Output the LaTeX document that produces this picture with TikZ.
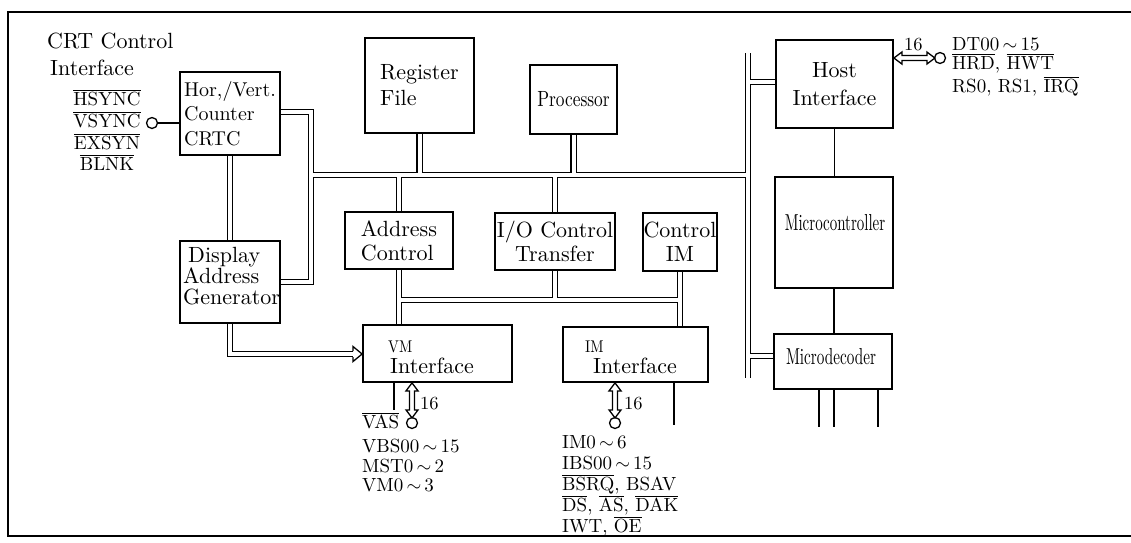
\RequirePackage{fix-cm}
\documentclass[tikz,border=0pt]{standalone}
\usepackage{fontspec}
\setmainfont{lmroman10-regular}[Extension=.otf,BoldFont=lmroman10-bold,ItalicFont=lmroman10-italic]
\usepackage{graphicx}
\usetikzlibrary{calc}
\pgfdeclarelayer{bg}
\pgfsetlayers{bg,main}
\newcommand\ovl[1]{$\overline{\mbox{#1}}$}
\newcommand\wv{\,$\sim$\,}
\begin{document}
\begin{tikzpicture}[x=1pt,y=-1pt,
  box/.style={draw,line width=1.8pt,fill=white,inner sep=0pt,align=center,font=\fontsize{22}{24}\selectfont},
  txt/.style={inner sep=0pt,anchor=base west,font=\fontsize{22}{24}\selectfont},
  sig/.style={inner sep=0pt,anchor=base west,font=\fontsize{19}{21}\selectfont},
  num/.style={inner sep=0pt,anchor=base west,font=\fontsize{18.5}{20}\selectfont},
  small/.style={inner sep=0pt,anchor=base west,font=\fontsize{17}{19}\selectfont},
  ln/.style={line width=1.3pt},
  bus/.style={line width=1.3pt,double=white,double distance=4pt},
  pin/.style={circle,draw,line width=1.3pt,fill=white,inner sep=0pt,minimum size=11pt},
  fat/.style={line width=1.3pt,line join=miter},
]
\useasboundingbox (0,0) rectangle (1131,542);
\begin{pgfonlayer}{bg}
\fill[white] (0,0) rectangle (1131,542);
\end{pgfonlayer}
\draw[line width=1.5pt] (1131,12) -- (8,12) -- (8,536) -- (1131,536);

% boxes
\node[box,minimum width=100pt,minimum height=83pt,align=left,font=\fontsize{20}{24.5}\selectfont] (crtc) at (230,113.5) {Hor,/Vert.\\Counter\\CRTC};
\node[box,minimum width=109pt,minimum height=95pt,align=left,font=\fontsize{22}{26}\selectfont] (reg) at (419.5,85.5) {Register\\File};
\node[box,minimum width=87pt,minimum height=69pt] (proc) at (573.5,99.5) {\scalebox{0.79}[1]{Processor}};
\node[box,minimum width=117pt,minimum height=88pt,font=\fontsize{22}{28}\selectfont] (host) at (834.5,84) {Host\\Interface};
\node[box,minimum width=118pt,minimum height=111pt] (mctl) at (834,232.5) {};
\node[box,minimum width=118pt,minimum height=55pt] (mdec) at (833,361.5) {};
\node[box,minimum width=100pt,minimum height=82pt] (dag) at (230,282) {};
\node[box,minimum width=108pt,minimum height=57pt,align=left] (addr) at (399,240.5) {Address\\Control};
\node[box,minimum width=120pt,minimum height=57pt] (ioc) at (555,241.5) {I/O Control\\Transfer};
\node[box,minimum width=74pt,minimum height=58pt] (cim) at (680,242) {Control\\IM};
\node[box,minimum width=149pt,minimum height=57pt] (vm) at (437.5,353.5) {};
\node[box,minimum width=145pt,minimum height=55pt] (im) at (635.5,354.5) {};

% texts inside boxes placed freely
\node[inner sep=0pt,font=\fontsize{22}{24}\selectfont] (mctlT) at (835,223) {\scalebox{0.68}[1.05]{Microcontroller}};
\node[inner sep=0pt,font=\fontsize{22}{24}\selectfont] (mdecT) at (831,357) {\scalebox{0.69}[1.05]{Microdecoder}};
\node[txt] (dagT1) at (188,262) {Display};
\node[txt] (dagT2) at (183,283) {Address};
\node[txt] (dagT3) at (183,304) {Generator};
\node[small] (vmT1) at (388,352) {\scalebox{0.85}[1]{VM}};
\node[txt] (vmT2) at (390,373) {Interface};
\node[small] (imT1) at (585,352) {\scalebox{0.85}[1]{IM}};
\node[txt] (imT2) at (593,373) {Interface};

% CRT interface
\node[txt] (crtT1) at (47,48) {CRT\ Control};
\node[txt] (crtT2) at (50,75) {Interface};
\node[sig,anchor=base] (s1) at (107,105) {\ovl{HSYNC}};
\node[sig,anchor=base] (s2) at (107,127) {\ovl{VSYNC}};
\node[sig,anchor=base] (s3) at (107,149) {\ovl{EXSYN}};
\node[sig,anchor=base] (s4) at (107,170) {\ovl{BLNK}};
\node[pin] (pcrt) at (152,123) {};
\draw[ln] (pcrt) -- (pcrt -| crtc.west);

% buses
\begin{pgfonlayer}{bg}
\draw[bus]
  (crtc.east |- 0,112) -- (311,112) -- (311,282) -- (dag.east |- 0,282)
  (311,175) -- (748,175)
  (748,53) -- (748,378)
  (748,82) -- (host.west |- 0,82)
  (748,356) -- (mdec.west |- 0,356)
  (reg.south) -- (reg.south |- 0,175)
  (proc.south) -- (proc.south |- 0,175)
  (addr.north |- 0,175) -- (addr.north)
  (ioc.north |- 0,175) -- (ioc.north)
  (addr.south) -- (addr.south |- vm.north)
  (ioc.south) -- (ioc.south |- 0,300)
  (addr.south |- 0,300) -- (cim.south |- 0,300)
  (cim.south) -- (cim.south |- im.north)
  (crtc.south) -- (dag.north)
  (dag.south) -- (230,354) -- (353,354);
\end{pgfonlayer}
\draw[ln,line join=miter] (353,351) -- (353,346.5) -- (vm.west |- 0,354) -- (353,361.5) -- (353,357);

% host side
\node[pin] (phost) at (940,58) {};
\draw[fat] (phost -| host.east) -- ++(8,-6) -- ++(0,3.5) -- ++(25,0) -- ++(0,-3.5) -- ++(8,6) -- ++(-8,6) -- ++(0,-3.5) -- ++(-25,0) -- ++(0,3.5) -- cycle;
\node[num] (n16h) at (904,50) {16};
\node[sig] (h1) at (952,50) {DT00\wv15};
\node[sig] (h2) at (952,69) {\ovl{HRD}, \ovl{HWT}};
\node[sig] (h3) at (952,92) {RS0, RS1, \ovl{IRQ}};
\draw[ln] (host.south) -- (host.south |- mctl.north);
\draw[ln] (mctl.south) -- (mctl.south |- mdec.north);
\coordinate (md1) at (819,427);
\coordinate (md2) at (834,427);
\coordinate (md3) at (878,427);
\draw[ln] (md1 |- mdec.south) -- (md1);
\draw[ln] (md2 |- mdec.south) -- (md2);
\draw[ln] (md3 |- mdec.south) -- (md3);

% VM side
\node[pin] (pvm) at (412,423) {};
\draw[fat] (pvm |- vm.south) -- ++(6,8) -- ++(-3.5,0) -- ++(0,19) -- ++(3.5,0) -- ++(-6,8) -- ++(-6,-8) -- ++(3.5,0) -- ++(0,-19) -- ++(-3.5,0) -- cycle;
\node[num] (n16v) at (420,409) {16};
\coordinate (vasEnd) at (394,410);
\draw[ln] (vasEnd |- vm.south) -- (vasEnd);
\node[sig] (v0) at (362,428) {\ovl{VAS}};
\node[sig] (v1) at (362,452) {VBS00\wv15};
\node[sig] (v2) at (362,472) {MST0\wv2};
\node[sig] (v3) at (362,491) {VM0\wv3};

% IM side
\node[pin] (pim) at (615,423) {};
\draw[fat] (pim |- im.south) -- ++(6,8) -- ++(-3.5,0) -- ++(0,19) -- ++(3.5,0) -- ++(-6,8) -- ++(-6,-8) -- ++(3.5,0) -- ++(0,-19) -- ++(-3.5,0) -- cycle;
\node[num] (n16i) at (624,409) {16};
\coordinate (imEnd) at (674,425);
\draw[ln] (imEnd |- im.south) -- (imEnd);
\node[sig] (i1) at (562,448) {IM0\wv6};
\node[sig] (i2) at (562,469) {IBS00\wv15};
\node[sig] (i3) at (562,490) {\ovl{BSRQ}, BSAV};
\node[sig] (i4) at (562,511) {\ovl{DS}, \ovl{AS}, \ovl{DAK}};
\node[sig] (i5) at (562,532) {IWT, \ovl{OE}};
\end{tikzpicture}
\end{document}
